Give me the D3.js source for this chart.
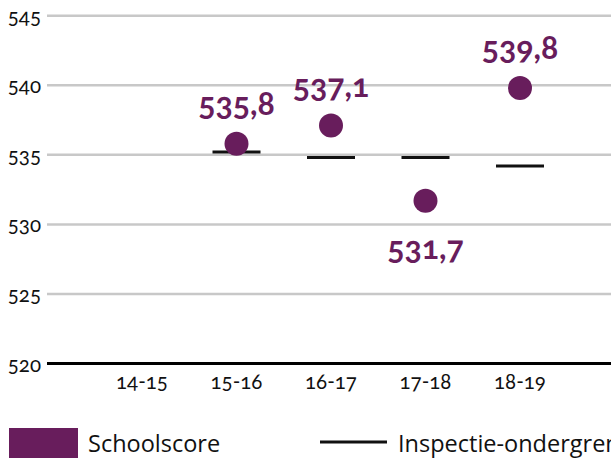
<!DOCTYPE html>
<html>
<head>
<meta charset="utf-8">
<script src="https://cdn.jsdelivr.net/npm/d3@7/dist/d3.min.js"></script>
<style>
  html, body { margin: 0; padding: 0; background: #fff; overflow: hidden; }
  svg { display: block; }
  .num { font-family: Lato, "Open Sans", sans-serif; font-variant-numeric: oldstyle-nums; font-feature-settings: "onum" 1; }
  .leg { font-family: "Open Sans", "Noto Sans", sans-serif; }
</style>
</head>
<body>
<svg id="chart" width="611" height="460"></svg>
<script>
const categories = ["14-15", "15-16", "16-17", "17-18", "18-19"];
const schoolscore = [null, 535.8, 537.1, 531.7, 539.8];
const ondergrens = [null, 535.2, 534.8, 534.8, 534.2];
const labelText = [null, "535,8", "537,1", "531,7", "539,8"];
const labelPos = [null, "above", "above", "below", "above"];
const yTicks = [520, 525, 530, 535, 540, 545];
const legendLabels = ["Schoolscore", "Inspectie-ondergrens"];

const purple = "#681d5c";
const svg = d3.select("#chart");

const x = d3.scaleBand().domain(categories).range([94.75, 567.25]);
const y = d3.scaleLinear().domain([520, 545]).range([363.5, 15.7]);

// gridlines
svg.append("g").selectAll("line").data(yTicks.filter(t => t !== 520)).join("line")
  .attr("x1", 47).attr("x2", 611)
  .attr("y1", d => y(d)).attr("y2", d => y(d))
  .attr("stroke", "#c8c8c8").attr("stroke-width", 2.5);

// baseline
svg.append("line")
  .attr("x1", 47).attr("x2", 611)
  .attr("y1", y(520)).attr("y2", y(520))
  .attr("stroke", "#000").attr("stroke-width", 3);

// y labels
svg.append("g").selectAll("text").data(yTicks).join("text")
  .attr("class", "num")
  .attr("x", 41).attr("y", d => y(d) + 8)
  .attr("text-anchor", "end")
  .attr("font-size", 20.5).attr("fill", "#111")
  .text(d => d);

// x labels
svg.append("g").selectAll("text").data(categories).join("text")
  .attr("class", "num")
  .attr("x", d => x(d) + x.bandwidth() / 2).attr("y", 389)
  .attr("text-anchor", "middle")
  .attr("font-size", 20.5).attr("fill", "#111")
  .text(d => d);

// ondergrens segments
const half = 24;
svg.append("g").selectAll("line")
  .data(categories.map((c, i) => ({c, v: ondergrens[i]})).filter(d => d.v != null))
  .join("line")
  .attr("x1", d => x(d.c) + x.bandwidth() / 2 - half)
  .attr("x2", d => x(d.c) + x.bandwidth() / 2 + half)
  .attr("y1", d => y(d.v)).attr("y2", d => y(d.v))
  .attr("stroke", "#111").attr("stroke-width", 3);

// dots
const pts = categories.map((c, i) => ({c, v: schoolscore[i], t: labelText[i], p: labelPos[i]})).filter(d => d.v != null);
svg.append("g").selectAll("circle").data(pts).join("circle")
  .attr("cx", d => x(d.c) + x.bandwidth() / 2)
  .attr("cy", d => y(d.v))
  .attr("r", 12)
  .attr("fill", purple);

// value labels
svg.append("g").selectAll("text").data(pts).join("text")
  .attr("class", "num")
  .attr("x", d => x(d.c) + x.bandwidth() / 2)
  .attr("y", d => d.p === "above" ? y(d.v) - 29 : y(d.v) + 58)
  .attr("text-anchor", "middle")
  .attr("font-size", 32).attr("font-weight", "bold")
  .attr("fill", purple)
  .text(d => d.t);

// legend
const lg = svg.append("g");
lg.append("rect").attr("x", 9).attr("y", 428).attr("width", 69).attr("height", 30).attr("fill", purple);
lg.append("text").attr("class", "leg").attr("x", 88).attr("y", 452)
  .attr("font-size", 23.5).attr("fill", "#111").text(legendLabels[0]);
lg.append("line").attr("x1", 320).attr("x2", 387).attr("y1", 442).attr("y2", 442)
  .attr("stroke", "#111").attr("stroke-width", 3);
lg.append("text").attr("class", "leg").attr("x", 398).attr("y", 452)
  .attr("font-size", 23.5).attr("fill", "#111").text(legendLabels[1]);
</script>
</body>
</html>
